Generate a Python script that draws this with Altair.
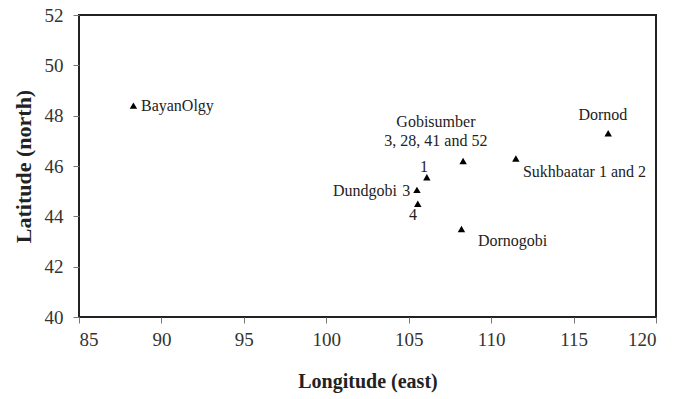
import altair as alt
import pandas as pd

# Sampling sites (longitude east, latitude north)
site_names = ["BayanOlgy", "Dornod", "Gobisumber", "Sukhbaatar", "Dundgobi 1",
              "Dundgobi 3", "Dundgobi 4", "Dornogobi"]
site_lon = [88.3, 117.1, 108.3, 111.5, 106.1, 105.5, 105.55, 108.2]
site_lat = [48.4, 47.3, 46.2, 46.3, 45.55, 45.05, 44.5, 43.5]

# Annotation labels (anchor in data coordinates)
left_labels = ["BayanOlgy", "Sukhbaatar 1 and 2", "Dornogobi"]
left_lon = [88.76, 111.93, 109.2]
left_lat = [48.38, 45.76, 43.02]

center_labels = ["Gobisumber", "3, 28, 41 and 52", "1", "4", "Dornod"]
center_lon = [106.65, 106.65, 105.93, 105.26, 116.78]
center_lat = [47.75, 46.99, 45.96, 44.05, 48.03]

right_labels = ["Dundgobi", "3"]
right_lon = [104.29, 105.1]
right_lat = [45.01, 45.01]

x_ticks = [85, 90, 95, 100, 105, 110, 115, 120]
y_ticks = [40, 42, 44, 46, 48, 50, 52]

FONT = "Liberation Serif"

points = pd.DataFrame({"name": site_names, "lon": site_lon, "lat": site_lat})

x_enc = alt.X("lon:Q", scale=alt.Scale(domain=[85, 120], nice=False),
              axis=alt.Axis(values=x_ticks, title="Longitude (east)", grid=False,
                            domain=False, tickColor="#777", tickSize=6,
                            labelFont=FONT, labelFontSize=19, labelColor="#333",
                            labelPadding=7, titleFont=FONT, titleFontSize=20,
                            titleFontWeight="bold", titleColor="#222", titlePadding=22))
y_enc = alt.Y("lat:Q", scale=alt.Scale(domain=[40, 52], nice=False),
              axis=alt.Axis(values=y_ticks, title="Latitude (north)", grid=False,
                            domain=False, tickColor="#777", tickSize=6,
                            labelFont=FONT, labelFontSize=19, labelColor="#333",
                            labelPadding=10, titleFont=FONT, titleFontSize=22,
                            titleFontWeight="bold", titleColor="#222", titlePadding=9))

pts = alt.Chart(points).mark_point(shape="triangle-up", filled=True, color="black",
                                   size=55, opacity=1).encode(x=x_enc, y=y_enc)


def text_layer(labels, lons, lats, align):
    df = pd.DataFrame({"label": labels, "lon": lons, "lat": lats})
    return alt.Chart(df).mark_text(align=align, baseline="middle", font=FONT,
                                   fontSize=16, color="#222").encode(
        x=alt.X("lon:Q"), y=alt.Y("lat:Q"), text="label:N")


chart = alt.layer(
    pts,
    text_layer(left_labels, left_lon, left_lat, "left"),
    text_layer(center_labels, center_lon, center_lat, "center"),
    text_layer(right_labels, right_lon, right_lat, "right"),
).properties(
    width=577, height=302,
    autosize=alt.AutoSizeParams(type="none"),
    padding={"left": 79, "top": 15, "right": 17, "bottom": 82},
    background="white",
).configure_view(stroke="#222", strokeWidth=2)

chart.save("out.html", embed_options={"renderer": "svg", "actions": False})
